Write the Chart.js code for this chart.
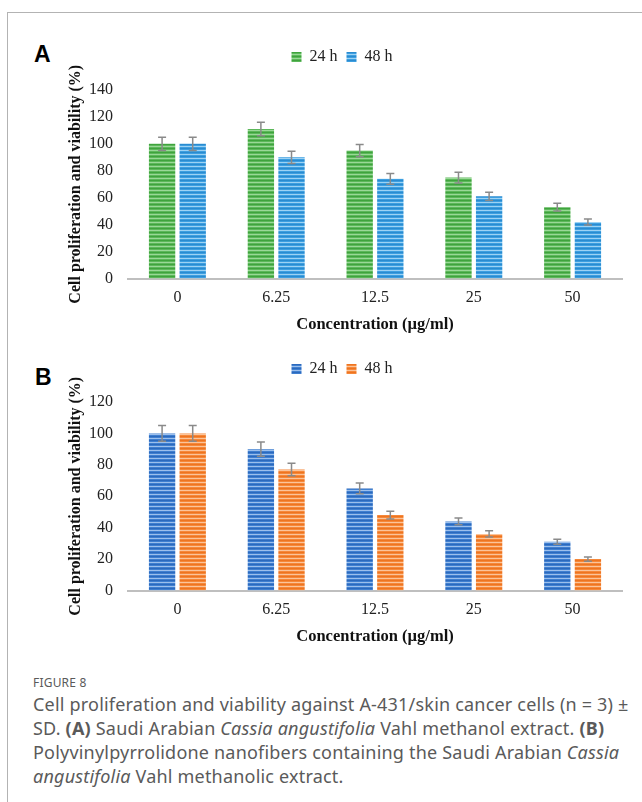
<!DOCTYPE html>
<html>
<head>
<meta charset="utf-8">
<script src="https://cdn.jsdelivr.net/npm/chart.js@4.4.1/dist/chart.umd.min.js"></script>
<style>
  body { margin: 0; background: #fff; width: 642px; height: 802px; overflow: hidden; position: relative; }
  .frame { position: absolute; left: 7px; top: 12px; width: 700px; height: 820px; border-left: 1px solid #b3b3b3; border-top: 1px solid #b3b3b3; }
  .panel { position: absolute; font-family: "Liberation Sans", Arial, sans-serif; font-weight: bold; font-size: 23px; color: #000; }
  .box { position: absolute; left: 55px; width: 580px; height: 298px; }
  .caption { position: absolute; left: 33px; top: 674px; width: 605px; font-family: "Noto Sans", sans-serif; color: #5a5a5a; }
  .caption .fig { font-size: 12px; letter-spacing: 0.2px; margin-bottom: 1px; }
  .caption p { margin: 0; font-size: 18px; letter-spacing: 0.2px; line-height: 24px; }
</style>
</head>
<body>
<div class="frame"></div>
<div class="panel" style="left:34px; top:41px;">A</div>
<div class="panel" style="left:35px; top:364px;">B</div>
<div class="box" style="top:40px;"><canvas id="chartA"></canvas></div>
<div class="box" style="top:352px;"><canvas id="chartB"></canvas></div>
<div class="caption">
  <div class="fig">FIGURE 8</div>
  <p>Cell proliferation and viability against A-431/skin cancer cells (n = 3) &plusmn;
  SD. <b>(A)</b> Saudi Arabian <i>Cassia angustifolia</i> Vahl methanol extract. <b>(B)</b>
  Polyvinylpyrrolidone nanofibers containing the Saudi Arabian <i>Cassia
  angustifolia</i> Vahl methanolic extract.</p>
</div>
<script>
// concentrations (µg/ml)
const concentrations = ["0", "6.25", "12.5", "25", "50"];
const seriesNames = ["24 h", "48 h"];

// A: methanol extract
const extract24 = [100, 111, 95, 75, 53];
const extract24Err = [5, 5, 4.5, 4, 2.8];
const extract48 = [100, 90, 74, 61, 42];
const extract48Err = [5, 4.5, 4, 3, 2.2];

// B: PVP nanofibers with extract
const fiber24 = [100, 90, 65, 44, 31];
const fiber24Err = [5, 4.5, 3.4, 2.2, 1.6];
const fiber48 = [100, 77, 48, 36, 20];
const fiber48Err = [5, 4, 2.5, 2, 1.3];

const ticksA = [0, 20, 40, 60, 80, 100, 120, 140];
const ticksB = [0, 20, 40, 60, 80, 100, 120];

function stripes(base, light, dark) {
  const c = document.createElement("canvas");
  c.width = 4; c.height = 4;
  const g = c.getContext("2d");
  g.fillStyle = base; g.fillRect(0, 0, 4, 4);
  g.fillStyle = dark; g.fillRect(0, 0, 4, 1);
  g.fillStyle = light; g.fillRect(0, 2, 4, 1);
  return g.createPattern(c, "repeat");
}

const errorBars = {
  id: "errorBars",
  afterDatasetsDraw(chart) {
    const ctx = chart.ctx;
    const y = chart.scales.y;
    ctx.save();
    ctx.strokeStyle = "#8a8a8a";
    ctx.lineWidth = 1.5;
    chart.data.datasets.forEach((ds, i) => {
      const meta = chart.getDatasetMeta(i);
      meta.data.forEach((bar, j) => {
        const v = ds.data[j], e = ds.errors[j];
        const top = y.getPixelForValue(v + e), bot = y.getPixelForValue(v - e);
        ctx.beginPath();
        ctx.moveTo(bar.x, top); ctx.lineTo(bar.x, bot);
        ctx.moveTo(bar.x - 4, top); ctx.lineTo(bar.x + 4, top);
        ctx.moveTo(bar.x - 4, bot); ctx.lineTo(bar.x + 4, bot);
        ctx.stroke();
      });
    });
    ctx.restore();
  }
};

// extra room under the legend
const legendGap = {
  id: "legendGap",
  beforeInit(chart) {
    const fit = chart.legend.fit;
    chart.legend.fit = function () {
      fit.call(this);
      this.height += 15;
    };
  }
};

const serif = "'Liberation Serif', 'Times New Roman', serif";

function makeChart(id, s24, e24, s48, e48, fill24, fill48, tickValues) {
  const ctx = document.getElementById(id).getContext("2d");
  return new Chart(ctx, {
    type: "bar",
    data: {
      labels: concentrations,
      datasets: [
        { label: seriesNames[0], data: s24, errors: e24, backgroundColor: fill24 },
        { label: seriesNames[1], data: s48, errors: e48, backgroundColor: fill48 }
      ]
    },
    options: {
      responsive: true,
      maintainAspectRatio: false,
      animation: false,
      categoryPercentage: 0.62,
      barPercentage: 0.86,
      layout: { padding: { left: 7, right: 13, top: 0, bottom: 5 } },
      plugins: {
        legend: {
          position: "top",
          labels: {
            boxWidth: 10, boxHeight: 10, padding: 9,
            color: "#222",
            font: { family: serif, size: 16 }
          }
        },
        tooltip: { enabled: false }
      },
      scales: {
        x: {
          grid: { display: false, drawTicks: false },
          border: { color: "#bfbfbf", width: 2 },
          ticks: { color: "#222", padding: 11, font: { family: serif, size: 16, lineHeight: 1 } },
          title: {
            display: true, text: "Concentration (µg/ml)", color: "#111",
            padding: { top: 0, bottom: 0 },
            font: { family: serif, size: 16.5, weight: "bold", lineHeight: 1 }
          }
        },
        y: {
          min: 0, max: tickValues[tickValues.length - 1],
          afterBuildTicks(scale) { scale.ticks = tickValues.map(v => ({ value: v })); },
          afterFit(scale) { scale.width = 66; },
          grid: { display: false, drawTicks: false },
          border: { display: false },
          ticks: { color: "#222", padding: 15, font: { family: serif, size: 16 } },
          title: {
            display: true, text: "Cell proliferation and viability (%)", color: "#111",
            padding: { top: 4, bottom: 4 },
            font: { family: serif, size: 16, weight: "bold" }
          }
        }
      }
    },
    plugins: [errorBars, legendGap]
  });
}

makeChart("chartA", extract24, extract24Err, extract48, extract48Err,
  stripes("#5cb85a", "#9ad897", "#3fa33d"), stripes("#3d9fe0", "#9dd2f4", "#2a8bd0"), ticksA);
makeChart("chartB", fiber24, fiber24Err, fiber48, fiber48Err,
  stripes("#3f7fd0", "#9cbfec", "#2c69bd"), stripes("#f5883a", "#fbc49a", "#ee7420"), ticksB);
</script>
</body>
</html>
